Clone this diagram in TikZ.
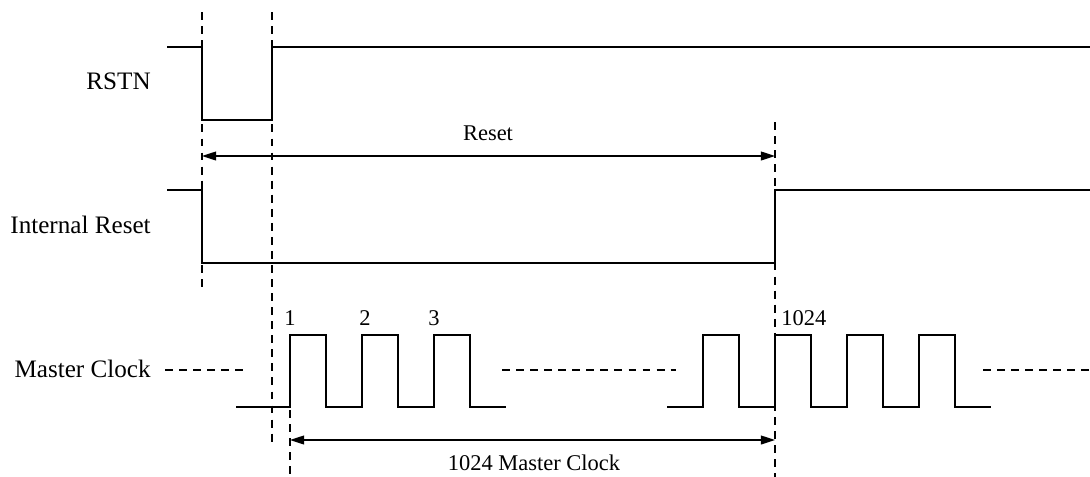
\documentclass[tikz,border=0pt]{standalone}
\usepackage{fontspec}
\setmainfont{Liberation Serif}
\usetikzlibrary{arrows.meta}

\begin{document}
\begin{tikzpicture}[x=0.02cm,y=-0.02cm,
  sig/.style={line width=1.1pt},
  guide/.style={line width=0.8pt,dash pattern=on 4.5pt off 3.5pt},
  span/.style={line width=0.8pt,{Triangle[length=8pt,width=5pt]}-{Triangle[length=8pt,width=5pt]}},
  lbl/.style={font=\fontsize{14.3}{17}\selectfont,inner sep=0pt},
  tag/.style={font=\fontsize{12.8}{15}\selectfont,inner sep=0pt}]
  \useasboundingbox (0,0) rectangle (1090,477);
  % signal names
  \node[lbl,anchor=east] (rstn) at (151,81) {RSTN};
  \node[lbl,anchor=east] (intrst) at (151,225) {Internal Reset};
  \node[lbl,anchor=east] (mclk) at (151,369) {Master Clock};
  % waveforms
  \draw[sig] (167,47) -| (202,120) -| (272,47) -- (1090,47);
  \draw[sig] (167,190) -| (202,263) -| (775,190) -- (1090,190);
  \draw[sig] (236,407) \foreach \x in {290,362,434}{ -- (\x,407) -- (\x,335) -- (\x+36,335) -- (\x+36,407)} -- (506,407);
  \draw[sig] (667,407) \foreach \x in {703,775,847,919}{ -- (\x,407) -- (\x,335) -- (\x+36,335) -- (\x+36,407)} -- (991,407);
  \draw[guide] (165,370) -- (245,370);
  \draw[guide] (502,370) -- (676,370);
  \draw[guide] (983,370) -- (1090,370);
  % clock numbers
  \node[tag,anchor=south] (n1) at (290,326) {1};
  \node[tag,anchor=south] (n2) at (365,326) {2};
  \node[tag,anchor=south] (n3) at (434,326) {3};
  \node[tag,anchor=south west] (n1024) at (781,326) {1024};
  % timing guides
  \draw[guide] (202,12) -- (202,292);
  \draw[guide] (272,12) -- (272,443);
  \draw[guide] (775,122) -- (775,477);
  \draw[guide] (290,410) -- (290,477);
  % spans
  \coordinate (rstA) at (202,156);
  \coordinate (rstB) at (775,156);
  \coordinate (clkA) at (290,440);
  \coordinate (clkB) at (775,440);
  \draw[span] (rstA) -- (rstB);
  \draw[span] (clkA) -- (clkB);
  \node[tag] (rstlbl) at (488,133) {Reset};
  \node[tag] (clklbl) at (534,463) {1024 Master Clock};
\end{tikzpicture}
\end{document}
